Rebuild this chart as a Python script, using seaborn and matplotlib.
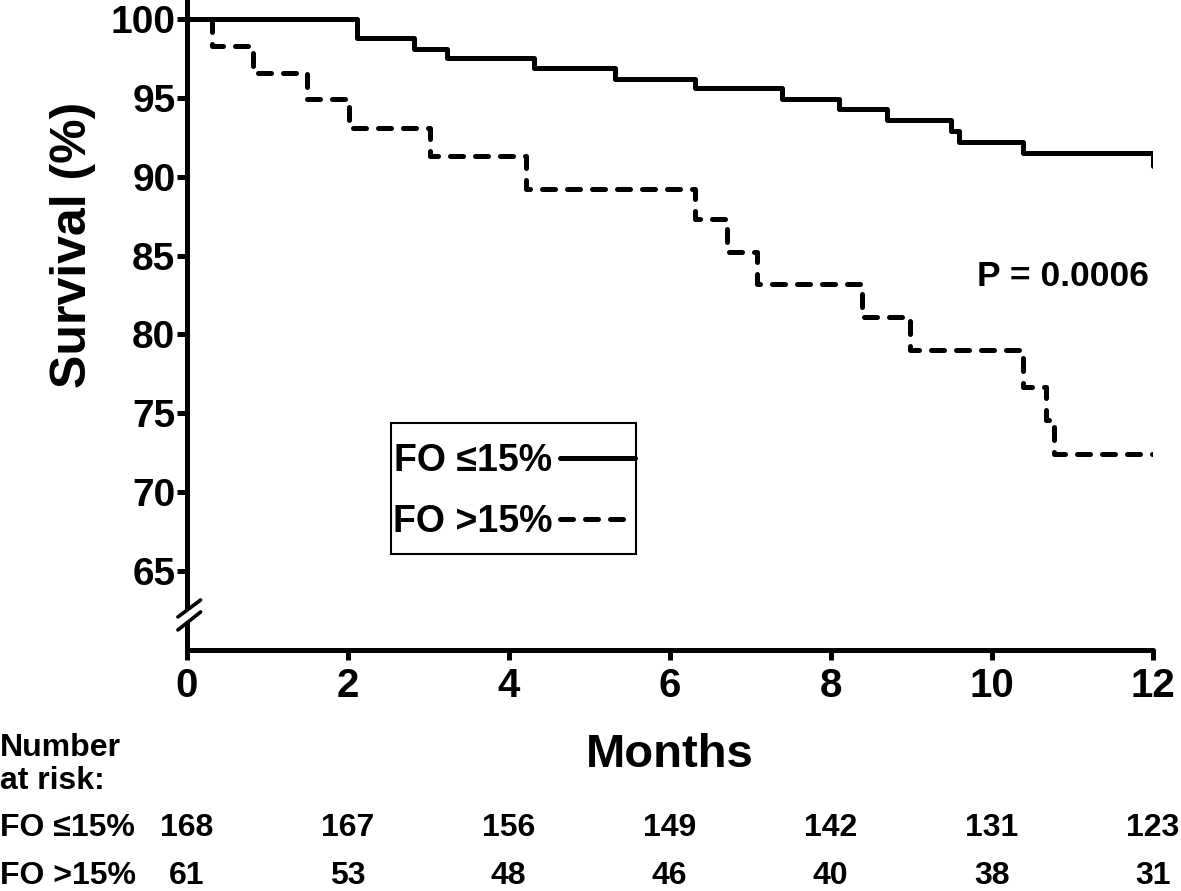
import matplotlib
matplotlib.use("Agg")
import matplotlib.pyplot as plt
from matplotlib.patches import Polygon, Rectangle
import matplotlib.transforms as mtransforms
import numpy as np
import pandas as pd
import seaborn as sns

# === data ===
LOW_LABEL = "FO \u226415%"
HIGH_LABEL = "FO >15%"

low_months = [0, 2.12, 2.82, 3.23, 4.32, 5.32, 6.31, 7.40, 8.10, 8.70, 9.50, 9.60, 10.39, 12.0, 12.0]
low_survival = [100, 98.8, 98.1, 97.5, 96.9, 96.2, 95.6, 94.9, 94.3, 93.6, 92.9, 92.2, 91.5, 91.5, 90.7]

high_months = [0, 0.32, 0.82, 1.50, 2.02, 3.02, 4.22, 6.31, 6.71, 7.08, 8.39, 8.98, 10.39, 10.68, 10.78, 12.0]
high_survival = [100, 98.3, 96.6, 94.9, 93.1, 91.3, 89.2, 87.3, 85.2, 83.2, 81.1, 79.0, 76.7, 74.6, 72.4, 72.4]

risk_months = [0, 2, 4, 6, 8, 10, 12]
risk_low = [168, 167, 156, 149, 142, 131, 123]
risk_high = [61, 53, 48, 46, 40, 38, 31]

Y_TICKS = [65, 70, 75, 80, 85, 90, 95, 100]
X_TICKS = [0, 2, 4, 6, 8, 10, 12]
P_TEXT = "P = 0.0006"

# === fonts / style ===
sns.set_style("white")
plt.rcParams['font.family'] = ['Liberation Sans', 'DejaVu Sans']
plt.rcParams['font.weight'] = 'bold'
for key in ['text.color', 'axes.labelcolor', 'xtick.color', 'ytick.color']:
    plt.rcParams[key] = 'black'
NARROW = ['Liberation Sans Narrow', 'Liberation Sans', 'DejaVu Sans']
WIDE = ['Liberation Sans', 'DejaVu Sans']
LW = 3.6
TABLE_FS = 23

df = pd.concat([
    pd.DataFrame({"month": low_months, "survival": low_survival, "group": LOW_LABEL}),
    pd.DataFrame({"month": high_months, "survival": high_survival, "group": HIGH_LABEL}),
], ignore_index=True)

fig = plt.figure(figsize=(11.81, 8.91), dpi=100)
ax = fig.add_axes([0.158, 0.2705, 0.818, 0.7295])

sns.lineplot(data=df, x="month", y="survival", style="group",
             style_order=[LOW_LABEL, HIGH_LABEL],
             dashes={LOW_LABEL: "", HIGH_LABEL: (2.6, 2.4)},
             color="black", linewidth=LW, estimator=None, sort=False,
             drawstyle="steps-post", dash_capstyle="round",
             solid_capstyle="round", legend=False, ax=ax)

ax.set_xlim(0, 12)
ax.set_ylim(60, 101.2)
ax.set_xticks(X_TICKS)
ax.set_yticks(Y_TICKS)
ax.set_xticklabels([str(v) for v in X_TICKS], fontsize=29, fontweight='bold', family=NARROW)
ax.set_yticklabels([str(v) for v in Y_TICKS], fontsize=28, fontweight='bold', family=WIDE)
ax.tick_params(axis='both', direction='out', length=7, width=LW, color='black',
               left=True, bottom=True)
ax.tick_params(axis='x', pad=5)
ax.tick_params(axis='y', pad=1)

for side in ["top", "right"]:
    ax.spines[side].set_visible(False)
for side in ["left", "bottom"]:
    ax.spines[side].set_linewidth(LW)
    ax.spines[side].set_color("black")
    ax.spines[side].set_capstyle("round")

ax.set_ylabel("Survival (%)", fontsize=36, fontweight='bold', family=WIDE)
ax.yaxis.set_label_coords(-0.094, 0.623)
ax.set_xlabel("Months", fontsize=34, fontweight='bold', family=NARROW)
ax.xaxis.set_label_coords(0.5, -0.128)

# axis break on y
gap = Polygon([[-0.009, 0.0508], [0.0145, 0.0769], [0.0145, 0.0585], [-0.009, 0.0308]],
              closed=True, transform=ax.transAxes, facecolor="white", edgecolor="none",
              clip_on=False, zorder=5)
ax.add_patch(gap)
ax.plot([-0.009, 0.0145], [0.0508, 0.0769], transform=ax.transAxes, color="black",
        lw=2.6, solid_capstyle="round", clip_on=False, zorder=6)
ax.plot([-0.009, 0.0145], [0.0308, 0.0585], transform=ax.transAxes, color="black",
        lw=2.6, solid_capstyle="round", clip_on=False, zorder=6)

# legend, text left of the line, box drawn separately
handles = ax.get_lines()[:2]
leg = ax.legend(handles, [LOW_LABEL, HIGH_LABEL], loc="upper left",
                bbox_to_anchor=(0.2133, 0.318), borderaxespad=0,
                markerfirst=False, frameon=False, handlelength=2.0,
                handletextpad=0.2, borderpad=0, labelspacing=0.65,
                prop={'family': WIDE, 'weight': 'bold', 'size': 27})
ax.add_patch(Rectangle((0.2112, 0.1477), 0.2536, 0.2015, transform=ax.transAxes,
                       facecolor="none", edgecolor="black", linewidth=1.5, zorder=4))

ax.text(11.95, 83.65, P_TEXT, ha="right", va="center", fontsize=25.5,
        fontweight='bold', family=WIDE)

# number at risk table
fig.text(0.0, 0.160, "Number", ha="left", va="center", fontsize=TABLE_FS, fontweight='bold', family=NARROW)
fig.text(0.0, 0.124, "at risk:", ha="left", va="center", fontsize=TABLE_FS, fontweight='bold', family=NARROW)
fig.text(0.0, 0.0707, LOW_LABEL, ha="left", va="center", fontsize=TABLE_FS, fontweight='bold', family=NARROW)
fig.text(0.0, 0.0168, HIGH_LABEL, ha="left", va="center", fontsize=TABLE_FS, fontweight='bold', family=NARROW)
blend = mtransforms.blended_transform_factory(ax.transData, fig.transFigure)
for m, a, b in zip(risk_months, risk_low, risk_high):
    fig.text(m, 0.0707, str(a), ha="center", va="center", fontsize=TABLE_FS,
             fontweight='bold', family=NARROW, transform=blend)
    fig.text(m, 0.0168, str(b), ha="center", va="center", fontsize=TABLE_FS,
             fontweight='bold', family=NARROW, transform=blend)

fig.savefig("out.png", dpi=100)
